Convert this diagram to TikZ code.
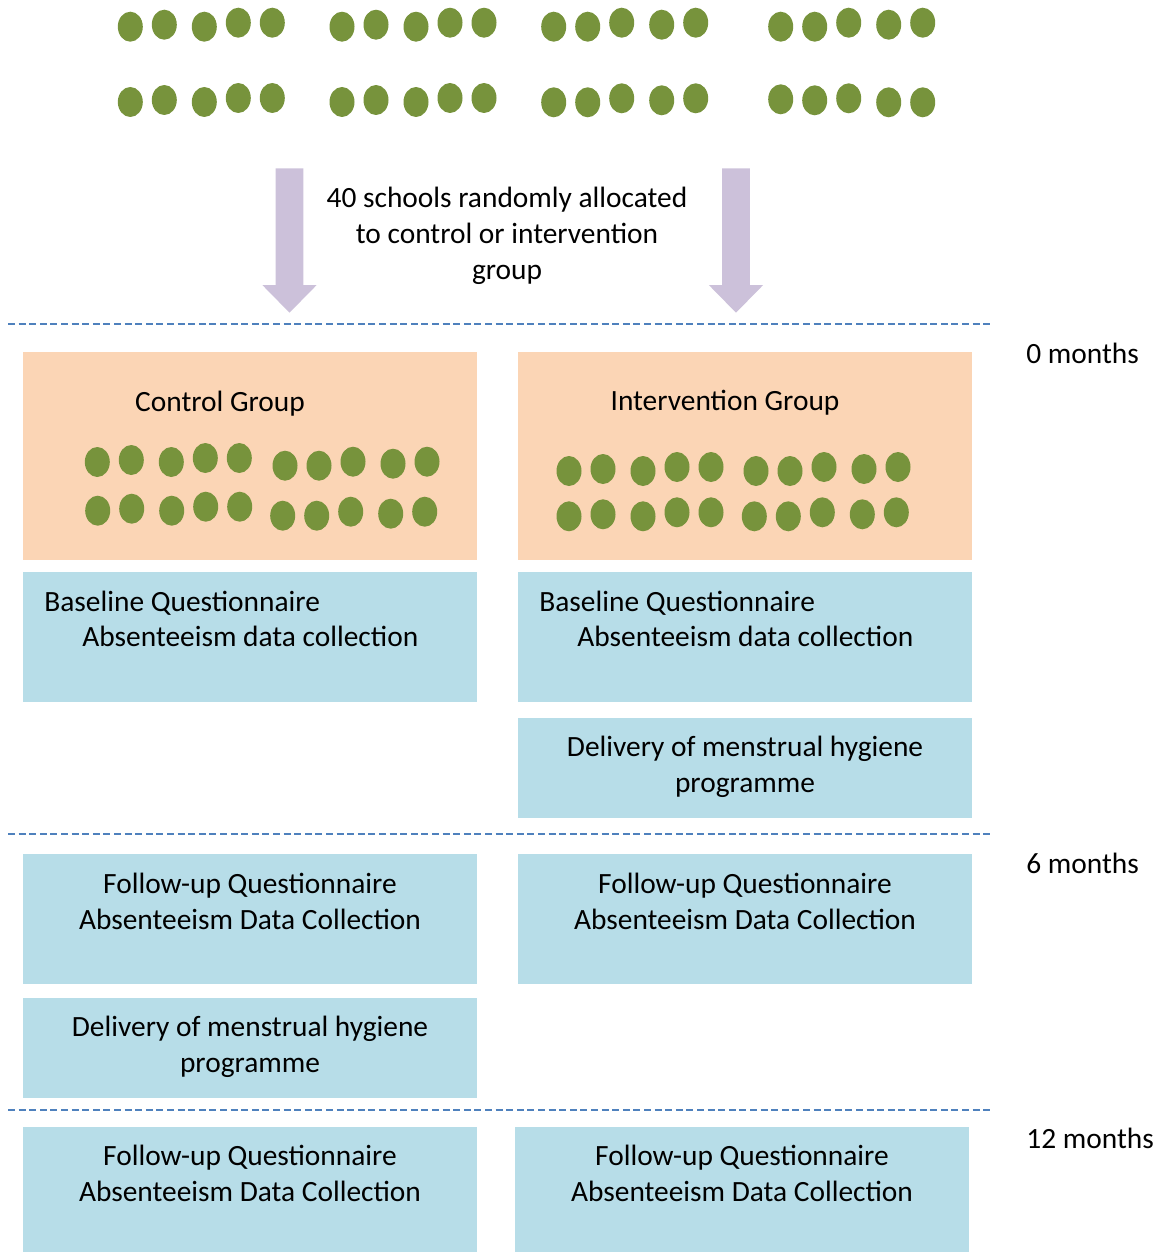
\documentclass[tikz,border=0pt]{standalone}
\usepackage{fontspec}
\setmainfont{Carlito}

\definecolor{peach}{HTML}{FBD5B5}
\definecolor{paleblue}{HTML}{B7DDE8}
\definecolor{olive}{HTML}{77933C}
\definecolor{lilac}{HTML}{CCC1DA}
\definecolor{sepblue}{HTML}{4F81BD}

% offsets of five schools in a row
\def\patA{0/4,34/2,74/4,108/0,142/0}
\def\patB{0/4,34/4,68/0,108/2,142/0}
\def\patC{0/1,34/2,68/0,108/4,142/4}
\newcommand{\dotrow}[3]{\foreach \dx/\dy in #3 {\fill[olive] ({#1+\dx},{#2+\dy}) ellipse [x radius=12.5, y radius=15];}}
\newcommand{\blockarrow}[1]{\fill[lilac] ({#1-13.8},168.3) -- ({#1+13.8},168.3) -- ({#1+13.8},285) -- ({#1+27.2},285) -- (#1,312.7) -- ({#1-27.2},285) -- ({#1-13.8},285) -- cycle;}

\begin{document}
\begin{tikzpicture}[x=0.5pt, y=-0.5pt, every node/.style={font=\fontsize{14.7}{18}\selectfont, inner sep=0}, groupbox/.style={fill=peach, minimum width=227pt, minimum height=104pt, anchor=north west}, stepbox/.style={fill=paleblue, minimum width=227pt, anchor=north west}, lines/.style={align=center, anchor=base}, sep line/.style={sepblue, line width=1.2pt, dash pattern=on 3.5pt off 1.8pt}]
\useasboundingbox (0,0) rectangle (1164,1252);
% 40 schools
\dotrow{130.3}{22.7}{\patA} \dotrow{130.3}{98}{\patA}
\dotrow{342}{22.7}{\patA} \dotrow{342}{98}{\patA}
\dotrow{553.7}{22.7}{\patB} \dotrow{553.7}{98.3}{\patB}
\dotrow{780.7}{22.7}{\patB} \dotrow{780.7}{98.3}{\patC}
\blockarrow{289.5}
\blockarrow{736}
% base = last line
\node[lines] (alloc) at (507,279) {40 schools randomly allocated\\to control or intervention\\group};
\foreach \y in {324,834,1110}
  { \draw[sep line] (8,\y) -- (990,\y); }
% months
\node[anchor=base west] (m0) at (1026,363) {0 months};
\node[anchor=base west] (m6) at (1026,873) {6 months};
\node[anchor=base west] (m12) at (1026,1148) {12 months};
% groups
\node[groupbox] (ctrl) at (23,352) {};
\node[groupbox] (intv) at (518,352) {};
\node[anchor=base] (ctrlt) at (220,411) {Control Group};
\node[anchor=base] (intvt) at (725,410) {Intervention Group};
\dotrow{97.3}{458}{\patA} \dotrow{285}{461.7}{\patB}
\dotrow{97.7}{506.7}{\patA} \dotrow{282.7}{511.7}{\patB}
\dotrow{569}{467}{\patA} \dotrow{756}{467}{\patB}
\dotrow{569}{512.3}{\patA} \dotrow{754.3}{512.3}{\patB}
% steps
\node[stepbox, minimum height=65pt] (cbase) at (23,572) {};
\node[stepbox, minimum height=65pt] (ibase) at (518,572) {};
\node[stepbox, minimum height=50pt] (idel) at (518,718) {};
\node[stepbox, minimum height=65pt] (cfu6) at (23,854) {};
\node[stepbox, minimum height=65pt] (ifu6) at (518,854) {};
\node[stepbox, minimum height=50pt] (cdel) at (23,998) {};
\node[stepbox, minimum height=62.5pt] (cfu12) at (23,1127) {};
\node[stepbox, minimum height=62.5pt] (ifu12) at (515,1127) {};
\node[anchor=base west] (cbq) at (44,611) {Baseline Questionnaire};
\node[anchor=base west] (cad) at (82,646) {Absenteeism data collection};
\node[anchor=base west] (ibq) at (539,611) {Baseline Questionnaire};
\node[anchor=base west] (iad) at (577,646) {Absenteeism data collection};
\node[lines] (idelt) at (745,792) {Delivery of menstrual hygiene\\programme};
\node[lines] (cfu6t) at (250,929) {Follow-up Questionnaire\\Absenteeism Data Collection};
\node[lines] (ifu6t) at (745,929) {Follow-up Questionnaire\\Absenteeism Data Collection};
\node[lines] (cdelt) at (250,1072) {Delivery of menstrual hygiene\\programme};
\node[lines] (cfu12t) at (250,1201) {Follow-up Questionnaire\\Absenteeism Data Collection};
\node[lines] (ifu12t) at (742,1201) {Follow-up Questionnaire\\Absenteeism Data Collection};
\end{tikzpicture}
\end{document}
